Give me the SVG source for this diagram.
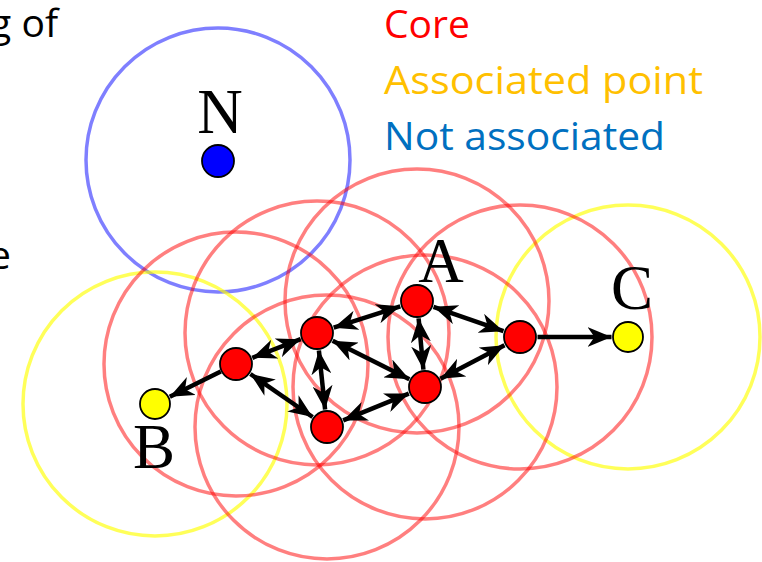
<svg xmlns="http://www.w3.org/2000/svg" width="762" height="562" viewBox="0 0 762 562">
  <style>
    .txt { font-family: "Open Sans", "Liberation Sans", sans-serif; font-size: 39px; }
    .lbl { font-family: "Liberation Serif", "Times New Roman", serif; font-size: 63px; fill: #000; text-anchor: middle; }
    .rc { fill: none; stroke: #ff0000; stroke-opacity: 0.5; stroke-width: 3.5; }
    .yc { fill: none; stroke: #ffff00; stroke-opacity: 0.65; stroke-width: 3.5; }
    .bc { fill: none; stroke: #0000ff; stroke-opacity: 0.5; stroke-width: 3.5; }
    .core { fill: #ff0000; stroke: #000; stroke-width: 1.8; }
    .assoc { fill: #ffff00; stroke: #000; stroke-width: 1.8; }
    .noise { fill: #0000ff; stroke: #000; stroke-width: 1.8; }
    .edge { stroke: #000; stroke-width: 4.5; fill: none; }
    .dbl { marker-start: url(#ah); marker-end: url(#ah); }
    .sgl { marker-end: url(#ah); }
  </style>
  <defs>
    <marker id="ah" viewBox="0 0 24 20" refX="24" refY="10" markerWidth="24" markerHeight="20" markerUnits="userSpaceOnUse" orient="auto-start-reverse">
      <path d="M0,0 L24,10 L0,20 L7,10 z" fill="#000"/>
    </marker>
  </defs>
  <rect width="762" height="562" fill="#fff"/>

  <!-- background text fragments -->
  <text class="txt" x="58" y="37" text-anchor="end" fill="#000">g of</text>
  <text class="txt" x="11" y="269" text-anchor="end" fill="#000">e</text>

  <!-- legend -->
  <g id="legend">
    <text class="txt" x="384" y="38" fill="#ff0000" textLength="86" lengthAdjust="spacingAndGlyphs">Core</text>
    <text class="txt" x="384" y="94" fill="#ffc000" textLength="319" lengthAdjust="spacingAndGlyphs">Associated point</text>
    <text class="txt" x="384" y="150" fill="#0070c0" textLength="281" lengthAdjust="spacingAndGlyphs">Not associated</text>
  </g>

  <!-- neighbourhood circles -->
  <g id="neighbourhoods">
    <circle class="bc" cx="218" cy="160" r="132"/>
    <circle class="yc" cx="155" cy="404" r="132"/>
    <circle class="yc" cx="628" cy="337" r="132"/>
    <circle class="rc" cx="236" cy="364" r="132"/>
    <circle class="rc" cx="317" cy="333" r="132"/>
    <circle class="rc" cx="417" cy="301" r="132"/>
    <circle class="rc" cx="327" cy="427" r="132"/>
    <circle class="rc" cx="425" cy="387" r="132"/>
    <circle class="rc" cx="520" cy="337" r="132"/>
  </g>

  <!-- connectors -->
  <g id="connectors">
    <line class="edge dbl" x1="252.3" y1="357.8" x2="300.7" y2="339.2"/>
    <line class="edge sgl" x1="220.8" y1="371.5" x2="169.8" y2="396.7"/>
    <line class="edge dbl" x1="250.4" y1="374.0" x2="312.6" y2="417.0"/>
    <line class="edge dbl" x1="333.7" y1="327.7" x2="400.3" y2="306.3"/>
    <line class="edge dbl" x1="318.9" y1="350.4" x2="325.1" y2="409.6"/>
    <line class="edge dbl" x1="332.6" y1="340.8" x2="409.4" y2="379.2"/>
    <line class="edge dbl" x1="418.6" y1="318.4" x2="423.4" y2="369.6"/>
    <line class="edge dbl" x1="433.5" y1="306.8" x2="503.5" y2="331.2"/>
    <line class="edge dbl" x1="343.2" y1="420.4" x2="408.8" y2="393.6"/>
    <line class="edge dbl" x1="504.5" y1="345.2" x2="440.5" y2="378.8"/>
    <line class="edge sgl" x1="537.5" y1="337" x2="611.5" y2="337"/>
  </g>

  <!-- nodes -->
  <g id="node-N">
    <circle class="noise" cx="218" cy="161" r="16"/>
    <text class="lbl" x="220" y="133">N</text>
  </g>
  <g id="node-A">
    <circle class="core" cx="417" cy="301" r="16"/>
    <text class="lbl" x="441" y="282">A</text>
  </g>
  <g id="node-P0"><circle class="core" cx="236" cy="364" r="16"/></g>
  <g id="node-P1"><circle class="core" cx="317" cy="333" r="16"/></g>
  <g id="node-P2"><circle class="core" cx="327" cy="427" r="16"/></g>
  <g id="node-P3"><circle class="core" cx="425" cy="387" r="16"/></g>
  <g id="node-P4"><circle class="core" cx="520" cy="337" r="16"/></g>
  <g id="node-B">
    <circle class="assoc" cx="155" cy="404" r="15"/>
    <text class="lbl" x="154" y="468">B</text>
  </g>
  <g id="node-C">
    <circle class="assoc" cx="628" cy="337" r="15"/>
    <text class="lbl" x="632" y="309">C</text>
  </g>
</svg>
